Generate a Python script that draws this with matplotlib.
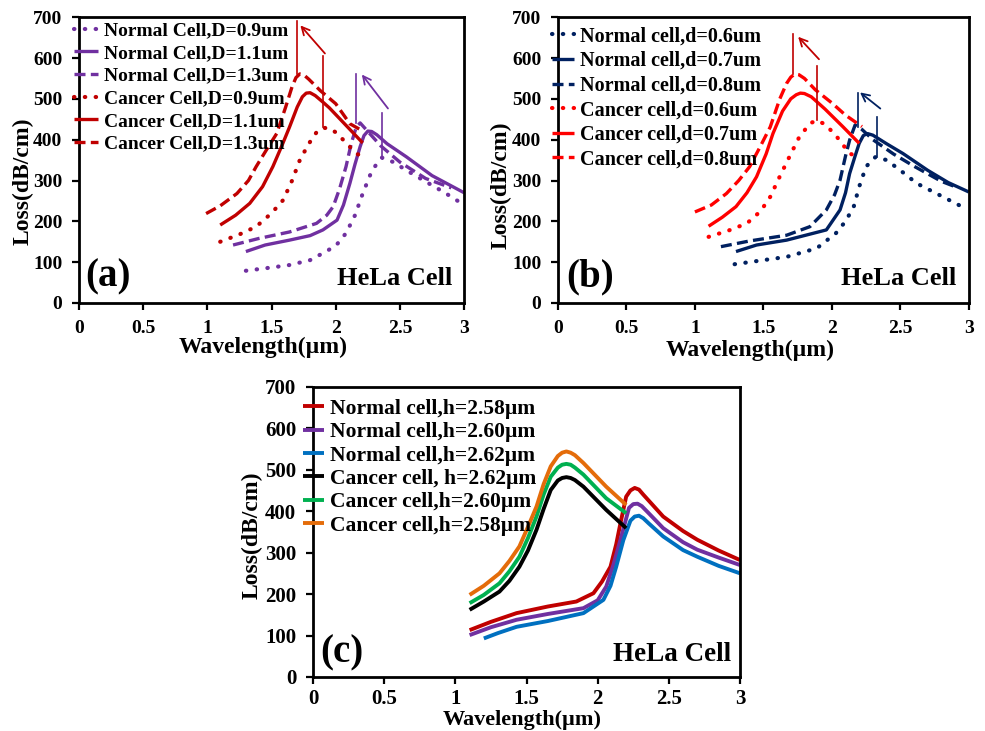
import matplotlib
matplotlib.use("Agg")
import matplotlib.pyplot as plt

plt.rcParams['font.family'] = ['Liberation Serif', 'DejaVu Serif']
plt.rcParams['font.weight'] = 'bold'

# ---------------- data (a) ----------------
a_nD09_x = [1.3, 1.5, 1.64, 1.8, 1.9, 2.0, 2.08, 2.15, 2.21, 2.27, 2.32, 2.36, 2.45, 2.55, 2.68, 2.85, 3.0]
a_nD09_y = [79, 87, 93, 105, 122, 140, 171, 215, 268, 315, 342, 356, 345, 325, 301, 270, 240]
a_nD11_x = [1.3, 1.45, 1.64, 1.8, 1.9, 2.01, 2.06, 2.11, 2.15, 2.19, 2.22, 2.25, 2.28, 2.32, 2.4, 2.55, 2.75, 3.0]
a_nD11_y = [126, 142, 154, 165, 179, 203, 240, 293, 340, 383, 410, 421, 420, 412, 390, 358, 312, 270]
a_nD13_x = [1.2, 1.4, 1.64, 1.85, 1.93, 1.98, 2.03, 2.08, 2.12, 2.16, 2.19, 2.25, 2.35, 2.5, 2.7, 2.9]
a_nD13_y = [142, 158, 174, 195, 215, 236, 280, 334, 390, 431, 441, 420, 385, 345, 305, 282]
a_cD09_x = [1.1, 1.25, 1.38, 1.5, 1.59, 1.66, 1.72, 1.79, 1.85, 1.9, 1.95, 2.0, 2.06, 2.16, 2.2]
a_cD09_y = [150, 168, 187, 220, 252, 300, 350, 390, 418, 429, 428, 418, 399, 366, 360]
a_cD11_x = [1.1, 1.22, 1.33, 1.43, 1.51, 1.58, 1.64, 1.7, 1.74, 1.77, 1.8, 1.84, 1.9, 1.95, 2.05, 2.21]
a_cD11_y = [191, 215, 244, 285, 334, 385, 431, 480, 505, 514, 515, 508, 492, 478, 445, 392]
a_cD13_x = [0.99, 1.1, 1.23, 1.32, 1.38, 1.46, 1.54, 1.61, 1.66, 1.69, 1.72, 1.75, 1.79, 1.88, 2.0, 2.11, 2.2]
a_cD13_y = [219, 238, 268, 300, 334, 375, 415, 480, 530, 552, 561, 559, 548, 520, 488, 439, 423]
a_labels = ["Normal Cell,D=0.9um", "Normal Cell,D=1.1um", "Normal Cell,D=1.3um",
            "Cancer Cell,D=0.9um", "Cancer Cell,D=1.1um", "Cancer Cell,D=1.3um"]

# ---------------- data (b) ----------------
b_n06_x = [1.29, 1.5, 1.67, 1.89, 2.03, 2.1, 2.16, 2.2, 2.25, 2.32, 2.4, 2.5, 2.62, 2.8, 2.95]
b_n06_y = [95, 105, 113, 134, 171, 200, 236, 285, 334, 358, 350, 325, 293, 262, 236]
b_n07_x = [1.3, 1.45, 1.67, 1.96, 2.06, 2.1, 2.13, 2.17, 2.2, 2.23, 2.26, 2.3, 2.4, 2.52, 2.7, 2.85, 3.0]
b_n07_y = [126, 142, 154, 179, 228, 270, 317, 360, 391, 410, 415, 411, 390, 366, 325, 295, 272]
b_n08_x = [1.19, 1.4, 1.67, 1.84, 1.96, 2.02, 2.06, 2.1, 2.13, 2.17, 2.22, 2.3, 2.45, 2.6, 2.8, 2.9]
b_n08_y = [138, 152, 166, 187, 228, 265, 301, 360, 399, 436, 425, 400, 365, 335, 298, 285]
b_c06_x = [1.1, 1.25, 1.38, 1.48, 1.55, 1.62, 1.69, 1.76, 1.84, 1.89, 1.95, 2.03, 2.13, 2.17]
b_c06_y = [162, 178, 195, 225, 260, 310, 358, 405, 440, 447, 438, 410, 366, 361]
b_c07_x = [1.1, 1.2, 1.3, 1.38, 1.45, 1.52, 1.57, 1.64, 1.7, 1.74, 1.77, 1.8, 1.85, 1.95, 2.08, 2.2]
b_c07_y = [188, 210, 236, 270, 309, 365, 415, 470, 500, 510, 514, 513, 505, 475, 432, 391]
b_c08_x = [1.0, 1.12, 1.23, 1.32, 1.4, 1.48, 1.55, 1.62, 1.67, 1.7, 1.73, 1.76, 1.8, 1.88, 2.0, 2.1, 2.22]
b_c08_y = [223, 240, 268, 300, 334, 385, 431, 500, 538, 553, 561, 559, 550, 522, 490, 460, 432]
b_labels = ["Normal cell,d=0.6um", "Normal cell,d=0.7um", "Normal cell,d=0.8um",
            "Cancer cell,d=0.6um", "Cancer cell,d=0.7um", "Cancer cell,d=0.8um"]

# ---------------- data (c) ----------------
c_n258_x = [1.1, 1.25, 1.43, 1.65, 1.85, 1.97, 2.03, 2.09, 2.13, 2.16, 2.2, 2.23, 2.26, 2.29, 2.32, 2.46, 2.6, 2.7, 2.85, 3.0]
c_n258_y = [113, 133, 154, 170, 182, 202, 230, 266, 320, 371, 435, 450, 456, 452, 440, 387, 352, 331, 305, 282]
c_n260_x = [1.1, 1.25, 1.43, 1.65, 1.9, 2.0, 2.06, 2.11, 2.16, 2.22, 2.25, 2.28, 2.31, 2.35, 2.46, 2.6, 2.7, 2.85, 3.0]
c_n260_y = [101, 120, 138, 152, 166, 185, 218, 270, 331, 408, 417, 418, 412, 398, 359, 325, 307, 288, 270]
c_n262_x = [1.2, 1.3, 1.43, 1.65, 1.9, 2.04, 2.09, 2.13, 2.18, 2.23, 2.26, 2.29, 2.32, 2.36, 2.46, 2.6, 2.7, 2.85, 3.0]
c_n262_y = [93, 106, 121, 135, 154, 186, 220, 266, 330, 377, 387, 389, 383, 370, 339, 306, 290, 268, 250]
c_cancer_x = [1.1, 1.2, 1.31, 1.38, 1.45, 1.51, 1.57, 1.62, 1.67, 1.72, 1.75, 1.78, 1.81, 1.84, 1.9, 2.06, 2.2]
c_c262_y = [162, 182, 206, 232, 266, 305, 355, 405, 451, 474, 480, 482, 480, 475, 459, 403, 359]
c_c260_y = [178, 198, 226, 255, 290, 335, 387, 440, 483, 505, 512, 514, 512, 505, 488, 431, 395]
c_c258_y = [198, 220, 250, 280, 315, 362, 411, 465, 508, 533, 541, 544, 541, 535, 516, 459, 415]
c_labels = ["Normal cell,h=2.58\u00b5m", "Normal cell,h=2.60\u00b5m", "Normal cell,h=2.62\u00b5m",
            "Cancer cell, h=2.62\u00b5m", "Cancer cell,h=2.60\u00b5m", "Cancer cell,h=2.58\u00b5m"]

x_ticks = [0, 0.5, 1, 1.5, 2, 2.5, 3]
x_ticklabels = ["0", "0.5", "1", "1.5", "2", "2.5", "3"]
y_ticks = [0, 100, 200, 300, 400, 500, 600, 700]

# annotation marker lines: (x, y0, y1) and arrows (from, to)
a_vlines_red = [(1.70, 560, 690), (1.90, 430, 605)]
a_arrow_red = ((1.93, 606), (1.71, 685))
a_vlines_pur = [(2.16, 440, 560), (2.36, 356, 465)]
a_arrow_pur = ((2.42, 471), (2.19, 565))
b_vlines_red = [(1.72, 562, 660), (1.89, 447, 580)]
b_arrow_red = ((1.92, 592), (1.74, 657))
b_vlines_nav = [(2.19, 431, 515), (2.33, 358, 455)]
b_arrow_nav = ((2.37, 472), (2.19, 520))

PURPLE = '#7030A0'
DRED = '#C00000'
NAVY = '#002060'
RED = '#FF0000'
BLUE = '#0070C0'
GREEN = '#00B050'
ORANGE = '#E46C0A'

DOT = 'dot'
DASH = (0, (3.3, 1.6))
LW = 2.4

fig = plt.figure(figsize=(9.85, 7.31), dpi=100)
ax_a = fig.add_axes([0.0802, 0.5855, 0.391, 0.391])
ax_b = fig.add_axes([0.5665, 0.5855, 0.417, 0.391])
ax_c = fig.add_axes([0.3178, 0.0739, 0.4335, 0.397])


def style(ax, fs_tick, pad=7):
    ax.set_xlim(0, 3)
    ax.set_ylim(0, 700)
    ax.set_xticks(x_ticks)
    ax.set_xticklabels(x_ticklabels)
    ax.set_yticks(y_ticks)
    for s in ax.spines.values():
        s.set_linewidth(2.0)
        s.set_color('black')
    ax.tick_params(direction='out', length=5, width=1.6, pad=7,
                   labelsize=fs_tick)
    ax.tick_params(axis='x', pad=pad)
    for lab in ax.get_xticklabels() + ax.get_yticklabels():
        lab.set_fontweight('bold')


def plot_line(ax, x, y, color, ls, label, lw=LW):
    if ls == DOT:
        line, = ax.plot(x, y, color=color, lw=3.0, linestyle=(0, (0.1, 2.5)),
                        label=label, dash_capstyle='round')
    else:
        line, = ax.plot(x, y, color=color, lw=lw, linestyle=ls, label=label,
                        solid_capstyle='butt', dash_capstyle='butt',
                        solid_joinstyle='round')
    return line


def finish(ax, tag, tag_pos, hela_pos, hela_fs, xl, yl, xl_fs=17):
    ax.text(tag_pos[0], tag_pos[1], tag, transform=ax.transAxes, fontsize=28,
            fontweight='bold', ha='left', va='center')
    ax.text(hela_pos[0], hela_pos[1], 'HeLa Cell', transform=ax.transAxes,
            fontsize=hela_fs, fontweight='bold', ha='right', va='center')
    ax.set_xlabel('Wavelength(\u00b5m)', fontsize=xl_fs, fontweight='bold')
    ax.set_ylabel('Loss(dB/cm)', fontsize=17, fontweight='bold')
    ax.xaxis.set_label_coords(*xl)
    ax.yaxis.set_label_coords(*yl)


# ---------- panel (a) ----------
style(ax_a, 14)
plot_line(ax_a, a_nD09_x, a_nD09_y, PURPLE, DOT, a_labels[0])
plot_line(ax_a, a_nD11_x, a_nD11_y, PURPLE, '-', a_labels[1])
plot_line(ax_a, a_nD13_x, a_nD13_y, PURPLE, DASH, a_labels[2])
plot_line(ax_a, a_cD09_x, a_cD09_y, DRED, DOT, a_labels[3])
plot_line(ax_a, a_cD11_x, a_cD11_y, DRED, '-', a_labels[4])
plot_line(ax_a, a_cD13_x, a_cD13_y, DRED, DASH, a_labels[5])
for (xv, y0, y1) in a_vlines_red:
    ax_a.plot([xv, xv], [y0, y1], color=DRED, lw=1.2)
for (xv, y0, y1) in a_vlines_pur:
    ax_a.plot([xv, xv], [y0, y1], color=PURPLE, lw=1.2)
ax_a.annotate('', xy=a_arrow_red[1], xytext=a_arrow_red[0],
              arrowprops=dict(arrowstyle='->', color=DRED, lw=1.3, mutation_scale=14))
ax_a.annotate('', xy=a_arrow_pur[1], xytext=a_arrow_pur[0],
              arrowprops=dict(arrowstyle='->', color=PURPLE, lw=1.3, mutation_scale=14))
ax_a.legend(loc='upper left', bbox_to_anchor=(-0.012, 0.984), frameon=False,
            prop={'size': 14, 'weight': 'bold'}, handlelength=1.2,
            handletextpad=0.3, labelspacing=0.26, borderpad=0, borderaxespad=0)
finish(ax_a, '(a)', (0.015, 0.09), (0.97, 0.087), 19,
       (0.478, -0.118), (-0.119, 0.427))

# ---------- panel (b) ----------
style(ax_b, 14)
plot_line(ax_b, b_n06_x, b_n06_y, NAVY, DOT, b_labels[0])
plot_line(ax_b, b_n07_x, b_n07_y, NAVY, '-', b_labels[1])
plot_line(ax_b, b_n08_x, b_n08_y, NAVY, DASH, b_labels[2])
plot_line(ax_b, b_c06_x, b_c06_y, RED, DOT, b_labels[3])
plot_line(ax_b, b_c07_x, b_c07_y, RED, '-', b_labels[4])
plot_line(ax_b, b_c08_x, b_c08_y, RED, DASH, b_labels[5])
for (xv, y0, y1) in b_vlines_red:
    ax_b.plot([xv, xv], [y0, y1], color=DRED, lw=1.2)
for (xv, y0, y1) in b_vlines_nav:
    ax_b.plot([xv, xv], [y0, y1], color=NAVY, lw=1.2)
ax_b.annotate('', xy=b_arrow_red[1], xytext=b_arrow_red[0],
              arrowprops=dict(arrowstyle='->', color=DRED, lw=1.3, mutation_scale=14))
ax_b.annotate('', xy=b_arrow_nav[1], xytext=b_arrow_nav[0],
              arrowprops=dict(arrowstyle='->', color=NAVY, lw=1.3, mutation_scale=14))
ax_b.legend(loc='upper left', bbox_to_anchor=(-0.014, 0.968), frameon=False,
            prop={'size': 14.5, 'weight': 'bold'}, handlelength=1.1,
            handletextpad=0.3, labelspacing=0.23, borderpad=0, borderaxespad=0)
finish(ax_b, '(b)', (0.02, 0.09), (0.97, 0.087), 19,
       (0.467, -0.128), (-0.112, 0.413))

# ---------- panel (c) ----------
style(ax_c, 15, pad=4)
plot_line(ax_c, c_n258_x, c_n258_y, DRED, '-', c_labels[0], lw=2.8)
plot_line(ax_c, c_n260_x, c_n260_y, PURPLE, '-', c_labels[1], lw=2.8)
plot_line(ax_c, c_n262_x, c_n262_y, BLUE, '-', c_labels[2], lw=2.8)
plot_line(ax_c, c_cancer_x, c_c262_y, 'black', '-', c_labels[3], lw=2.8)
plot_line(ax_c, c_cancer_x, c_c260_y, GREEN, '-', c_labels[4], lw=2.8)
plot_line(ax_c, c_cancer_x, c_c258_y, ORANGE, '-', c_labels[5], lw=2.8)
ax_c.legend(loc='upper left', bbox_to_anchor=(-0.023, 0.958), frameon=False,
            prop={'size': 15.5, 'weight': 'bold'}, handlelength=0.95,
            handletextpad=0.3, labelspacing=0.15, borderpad=0, borderaxespad=0)
finish(ax_c, '(c)', (0.016, 0.083), (0.98, 0.076), 19.5,
       (0.49, -0.115), (-0.119, 0.49), xl_fs=16)

fig.savefig('out.png', dpi=100)
